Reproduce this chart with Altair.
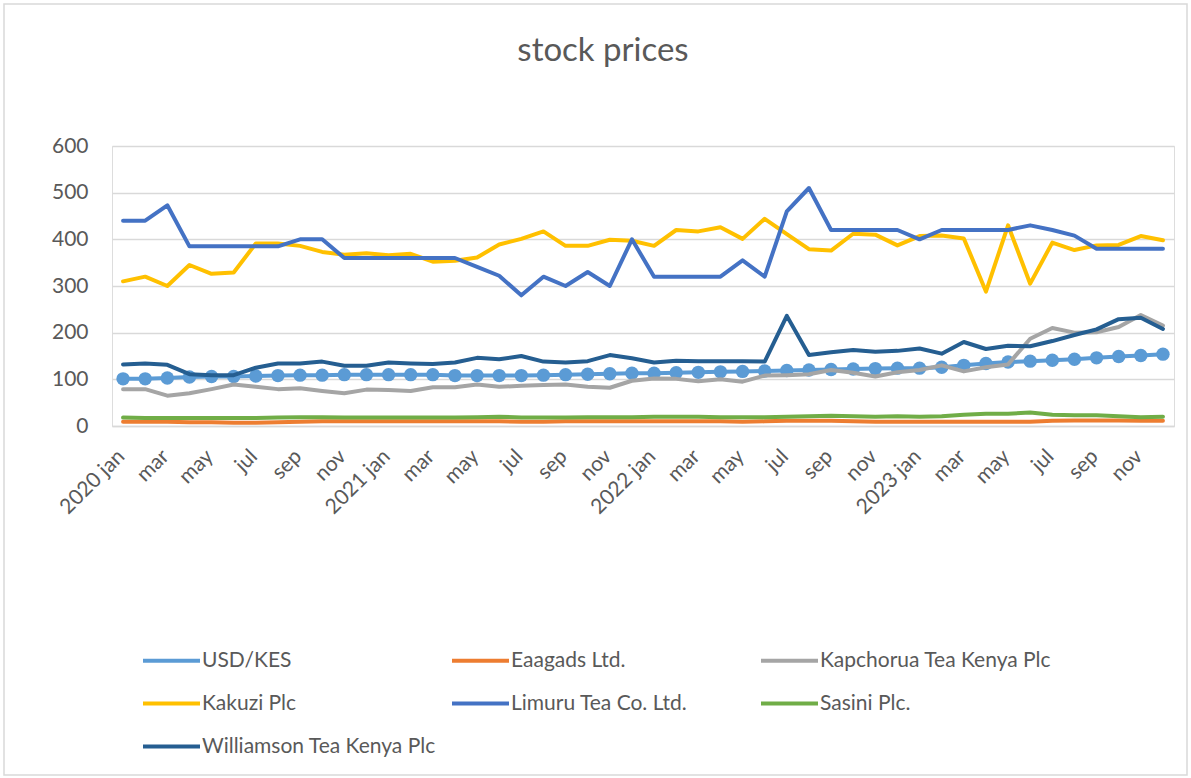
import altair as alt
import pandas as pd

# ---- data -------------------------------------------------------------
month_names = ["jan", "feb", "mar", "apr", "may", "jun",
               "jul", "aug", "sep", "oct", "nov", "dec"]
years = [2020, 2021, 2022, 2023]
tick_labels = []
for y in years:
    for m, name in enumerate(month_names):
        tick_labels.append(f"{y} {name}" if m == 0 else name)

series_names = ["USD/KES", "Eaagads Ltd.", "Kapchorua Tea Kenya Plc", "Kakuzi Plc",
                "Limuru Tea Co. Ltd.", "Sasini Plc.", "Williamson Tea Kenya Plc"]
series_colors = ["#5B9BD5", "#ED7D31", "#A5A5A5", "#FFC000",
                 "#4472C4", "#70AD47", "#255E91"]

usd_kes = [101, 101, 103, 105, 106, 106, 107, 108, 109, 109, 110, 110,
           110, 110, 110, 108, 108, 108, 108, 109, 110, 111, 112, 113,
           113, 114, 115, 116, 117, 118, 119, 120, 121, 122, 123, 124,
           124, 126, 130, 134, 137, 139, 141, 143, 146, 149, 151, 154]
eaagads = [9, 9, 9, 8, 8, 7, 7, 8, 9, 10, 10, 10,
           10, 10, 10, 10, 10, 10, 9, 9, 10, 10, 10, 10,
           10, 10, 10, 10, 9, 10, 11, 11, 11, 10, 9, 9,
           9, 9, 9, 9, 9, 9, 11, 12, 12, 12, 11, 11]
kapchorua = [79, 79, 65, 70, 79, 89, 84, 79, 81, 75, 70, 78,
             77, 75, 83, 83, 89, 84, 86, 88, 89, 84, 82, 97,
             102, 101, 96, 100, 95, 108, 109, 111, 120, 114, 106, 115,
             120, 130, 117, 126, 132, 187, 210, 200, 201, 212, 238, 215]
kakuzi = [310, 320, 300, 345, 326, 329, 391, 391, 386, 373, 367, 370,
          366, 369, 352, 354, 361, 389, 401, 417, 386, 386, 399, 397,
          386, 420, 417, 426, 401, 444, 411, 379, 376, 412, 410, 387,
          407, 408, 402, 288, 430, 305, 393, 377, 387, 388, 407, 398]
limuru = [440, 440, 473, 385, 385, 385, 385, 385, 400, 400, 360, 360,
          360, 360, 360, 360, 341, 322, 280, 320, 300, 330, 300, 400,
          320, 320, 320, 320, 355, 320, 460, 510, 420, 420, 420, 420,
          400, 420, 420, 420, 420, 430, 420, 408, 380, 380, 380, 380]
sasini = [18, 17, 17, 17, 17, 17, 17, 18, 19, 19, 18, 18,
          18, 18, 18, 18, 19, 20, 18, 18, 18, 19, 19, 19,
          20, 20, 20, 19, 19, 19, 20, 21, 22, 21, 20, 21,
          20, 21, 24, 26, 26, 29, 24, 23, 23, 21, 19, 20]
williamson = [132, 134, 131, 111, 109, 109, 125, 134, 134, 138, 129, 129,
              136, 134, 133, 136, 146, 143, 150, 138, 136, 139, 152, 145,
              136, 140, 139, 139, 139, 138, 236, 152, 158, 163, 159, 161,
              166, 155, 180, 165, 172, 171, 182, 195, 207, 229, 232, 208]

series_values = [usd_kes, eaagads, kapchorua, kakuzi, limuru, sasini, williamson]

rows = []
for name, vals in zip(series_names, series_values):
    for i, v in enumerate(vals):
        rows.append({"idx": i, "series": name, "value": v})
df = pd.DataFrame(rows)

# ---- chart ------------------------------------------------------------
FONT = "Lato"
GREY_TXT = "#595959"
GRID = "#D9D9D9"

label_js = "[" + ",".join(f"'{t}'" for t in tick_labels) + "]"

x_enc = alt.X(
    "idx:Q",
    scale=alt.Scale(domain=[-0.5, len(tick_labels) - 0.5], nice=False, zero=False),
    axis=alt.Axis(
        values=list(range(0, len(tick_labels), 2)),
        labelExpr=f"{label_js}[datum.value]",
        labelOverlap=False, labelBound=False, labelFlush=False,
        title=None, grid=False, ticks=False, tickSize=0,
        domain=True, domainColor=GRID, domainWidth=1.5,
        labelAngle=315, labelAlign="right", labelBaseline="middle",
        labelPadding=27, labelOffset=-2,
        labelFont=FONT, labelFontSize=21, labelColor=GREY_TXT,
    ),
)
y_enc = alt.Y(
    "value:Q",
    scale=alt.Scale(domain=[0, 600], nice=False),
    axis=alt.Axis(
        values=[0, 100, 200, 300, 400, 500, 600],
        title=None, domain=False, ticks=False, tickSize=0,
        grid=True, gridColor=GRID, gridWidth=1.5,
        labelPadding=24, labelFont=FONT, labelFontSize=21, labelColor=GREY_TXT,
    ),
)
color_enc = alt.Color(
    "series:N",
    scale=alt.Scale(domain=series_names, range=series_colors),
    sort=series_names,
    legend=alt.Legend(
        title=None, orient="none", legendX=29, legendY=484,
        direction="horizontal", columns=3, gridAlign="all",
        columnPadding=8, rowPadding=2,
        symbolType="stroke", symbolSize=3249, symbolStrokeWidth=4,
        labelFont=FONT, labelFontSize=21, labelColor=GREY_TXT,
        labelOffset=0, labelLimit=400,
    ),
)

# light frame round the whole chart area (decoration, not data)
frame = alt.Chart(pd.DataFrame({"f": [0]})).mark_rect(
    fill=None, stroke=GRID, strokeWidth=1.5
).encode(
    x=alt.value(-108), x2=alt.value(1075),
    y=alt.value(-142), y2=alt.value(629),
)

layers = [frame]
for k, name in enumerate(series_names):
    base = alt.Chart(df).transform_filter(alt.datum.series == name)
    layers.append(
        base.mark_line(strokeWidth=4, strokeJoin="round", strokeCap="round")
        .encode(x=x_enc, y=y_enc, color=color_enc)
    )
    if k == 0:
        layers.append(
            base.mark_circle(size=180, opacity=1)
            .encode(x=x_enc, y=y_enc, color=color_enc)
        )

chart = alt.layer(*layers).properties(
    width=1062,
    height=280,
    title=alt.TitleParams(
        "stock prices", font=FONT, fontSize=33, fontWeight="normal",
        color=GREY_TXT, anchor="middle", offset=-65, dx=-40,
    ),
    autosize=alt.AutoSizeParams(type="none"),
    padding={"left": 112, "top": 146, "right": 17, "bottom": 352},
).configure_view(stroke=None).configure(background="white")

chart.save("out.html", embed_options={"renderer": "svg", "actions": False})
